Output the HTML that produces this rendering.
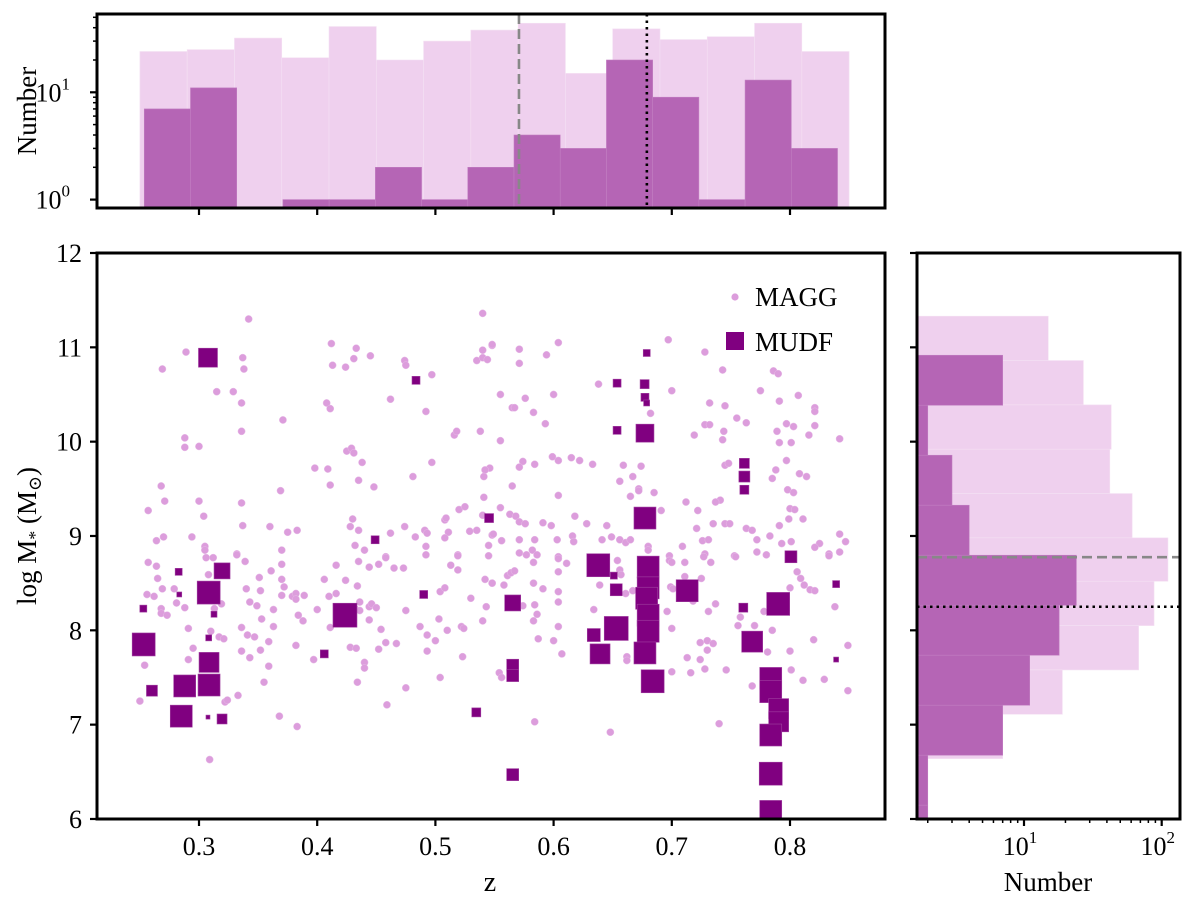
<!DOCTYPE html>
<html><head><meta charset="utf-8"><style>
html,body{margin:0;padding:0;background:#fff;}
svg{display:block;font-family:"Liberation Serif","DejaVu Serif",serif;}
</style></head><body>
<svg id="fig" width="1200" height="904" viewBox="0 0 1200 904" xmlns="http://www.w3.org/2000/svg">
<defs>
<clipPath id="clipMain"><rect x="97" y="253" width="788" height="566"/></clipPath>
<clipPath id="clipTop"><rect x="97" y="14" width="788" height="194"/></clipPath>
<clipPath id="clipRight"><rect x="917" y="253" width="263" height="566"/></clipPath>
</defs>
<g id="topHist" clip-path="url(#clipTop)"></g>
<g id="rightHist" clip-path="url(#clipRight)"></g>
<g id="scatter" clip-path="url(#clipMain)"></g>
<g id="axes"></g>
</svg>
<script>
// ---------- DATA ----------
const lightZEdges = [0.25,0.29,0.33,0.37,0.41,0.45,0.49,0.53,0.57,0.61,0.65,0.69,0.73,0.77,0.81,0.85];
const lightZCounts = [24,25,32,21,41,20,30,38,44,15,39,31,33,44,24];
const darkZEdges = [0.2537,0.2928,0.3319,0.3710,0.4101,0.4492,0.4883,0.5274,0.5665,0.6056,0.6447,0.6838,0.7229,0.7620,0.8011,0.8402];
const darkZCounts = [7,11,0,1,1,2,1,2,4,3,20,9,1,13,3];
const lightMEdges = [11.33,10.86,10.39,9.92,9.45,8.98,8.52,8.05,7.58,7.11,6.64];
const lightMCounts = [15,27,43,42,61,111,88,68,19,7];
const darkMEdges = [10.916,10.386,9.856,9.326,8.796,8.266,7.736,7.206,6.676,6.146,5.616];
const darkMCounts = [7,2,3,4,24,18,11,7,2,2];
const zMedianAll = 0.5707;
const zMedianMUDF = 0.6789;
const mMedianAll = 8.775;
const mMedianMUDF = 8.25;
const xTicks = [0.3,0.4,0.5,0.6,0.7,0.8];
const yTicks = [6,7,8,9,10,11,12];

const maggZ = [0.342,0.412,0.289,0.433,0.337,0.431,0.445,0.269,0.338,0.413,0.424,0.474,0.475,0.497,0.540,0.540,0.548,0.535,0.540,0.544,0.315,0.329,0.336,0.408,0.411,0.462,0.492,0.371,0.336,0.288,0.288,0.300,0.425,0.429,0.431,0.438,0.516,0.518,0.538,0.497,0.398,0.409,0.435,0.411,0.448,0.481,0.546,0.542,0.541,0.268,0.271,0.257,0.300,0.304,0.336,0.369,0.337,0.360,0.375,0.383,0.430,0.428,0.435,0.462,0.474,0.483,0.491,0.493,0.508,0.509,0.511,0.520,0.525,0.541,0.540,0.529,0.535,0.548,0.264,0.270,0.294,0.305,0.305,0.370,0.432,0.440,0.492,0.508,0.545,0.332,0.306,0.312,0.458,0.519,0.545,
0.548,0.571,0.571,0.594,0.604,0.697,0.728,0.743,0.786,0.790,0.638,0.700,0.775,0.555,0.576,0.600,0.791,0.807,0.732,0.745,0.821,0.821,0.565,0.567,0.583,0.682,0.593,0.755,0.763,0.728,0.732,0.744,0.719,0.743,0.797,0.803,0.821,0.789,0.816,0.791,0.801,0.842,0.555,0.574,0.571,0.584,0.599,0.604,0.615,0.622,0.633,0.659,0.674,0.667,0.656,0.565,0.672,0.672,0.685,0.665,0.604,0.555,0.712,0.722,0.741,0.737,0.745,0.748,0.797,0.788,0.785,0.808,0.814,0.798,0.803,0.800,0.804,0.811,0.799,0.791,0.563,0.568,0.571,0.576,0.591,0.598,0.618,0.628,0.645,0.691,0.721,0.735,0.745,0.749,0.763,0.768,0.783,0.549,0.556,0.571,0.584,0.603,0.616,0.617,0.641,0.649,0.656,0.661,0.665,0.680,0.680,0.709,0.726,0.731,0.772,0.793,0.801,0.825,0.821,0.842,0.847,0.842,0.833,0.772,0.780,0.753,0.728,0.698,0.571,0.577,0.582,0.586,0.604,
0.257,0.264,0.265,0.269,0.256,0.262,0.279,0.281,0.288,0.268,0.268,0.273,0.308,0.313,0.319,0.291,0.310,0.317,0.321,0.295,0.291,0.254,0.250,0.322,0.324,0.333,0.309,0.332,0.339,0.361,0.351,0.340,0.352,0.370,0.370,0.372,0.370,0.379,0.382,0.382,0.389,0.343,0.349,0.363,0.353,0.336,0.341,0.347,0.363,0.359,0.352,0.336,0.343,0.359,0.384,0.388,0.382,0.400,0.397,0.355,0.368,0.383,0.416,0.406,0.424,0.434,0.416,0.410,0.435,0.444,0.452,0.458,0.432,0.436,0.444,0.446,0.450,0.436,0.444,0.454,0.411,0.428,0.433,0.452,0.458,0.467,0.440,0.440,0.434,0.459,0.475,0.465,0.473,0.475,0.487,0.493,0.500,0.493,0.503,0.510,0.504,0.508,0.513,0.519,0.519,0.530,0.522,0.524,0.543,0.540,0.542,0.548,0.523,0.504,0.492,
0.548,0.558,0.561,0.564,0.567,0.583,0.583,0.591,0.604,0.604,0.604,0.611,0.604,0.584,0.586,0.583,0.574,0.604,0.587,0.600,0.607,0.634,0.639,0.654,0.656,0.657,0.661,0.667,0.662,0.662,0.554,0.556,0.584,0.648,0.698,0.700,0.711,0.699,0.701,0.696,0.700,0.711,0.725,0.727,0.733,0.754,0.718,0.737,0.731,0.758,0.756,0.770,0.778,0.785,0.724,0.730,0.735,0.730,0.713,0.724,0.728,0.716,0.700,0.746,0.768,0.740,0.781,0.800,0.801,0.811,0.829,0.849,0.849,0.820,0.838,0.800,0.806,0.809,0.812,0.817,0.821,0.833];
const maggM = [11.30,11.04,10.95,10.99,10.89,10.88,10.91,10.77,10.77,10.81,10.79,10.86,10.81,10.71,11.36,10.97,11.02,10.86,10.89,10.87,10.53,10.53,10.41,10.41,10.35,10.45,10.32,10.23,10.11,10.04,9.94,9.95,9.90,9.93,9.88,9.78,10.07,10.11,10.11,9.78,9.72,9.71,9.59,9.54,9.52,9.63,9.72,9.70,9.63,9.53,9.37,9.27,9.37,9.21,9.35,9.48,9.11,9.10,9.04,9.06,9.18,9.10,9.06,9.03,9.10,8.99,9.06,9.03,9.17,9.19,9.04,9.28,9.31,9.41,9.22,9.05,9.06,9.01,8.95,8.99,8.99,8.89,8.85,8.85,8.90,8.85,8.89,8.98,8.90,8.81,8.77,8.77,8.78,8.80,8.79,
11.03,10.98,10.83,10.92,11.05,11.08,10.95,10.76,10.75,10.72,10.61,10.54,10.54,10.50,10.46,10.50,10.43,10.49,10.41,10.38,10.36,10.32,10.36,10.36,10.31,10.30,10.19,10.25,10.20,10.18,10.18,10.11,10.07,10.02,10.19,10.16,10.17,10.11,10.07,9.99,9.99,10.03,10.01,9.79,9.73,9.76,9.84,9.80,9.83,9.80,9.76,9.75,9.74,9.63,9.58,9.53,9.50,9.48,9.46,9.42,9.43,9.30,9.36,9.27,9.38,9.36,9.75,9.77,9.80,9.70,9.61,9.66,9.63,9.49,9.46,9.29,9.28,9.18,9.18,9.11,9.23,9.21,9.15,9.13,9.14,9.11,9.21,9.13,9.11,9.27,9.08,9.13,9.13,9.13,9.08,9.06,9.00,9.02,8.95,8.96,8.96,8.96,9.00,8.94,8.96,8.99,8.96,8.93,8.96,8.89,8.85,8.89,8.95,8.96,8.96,8.92,8.94,8.92,8.88,9.02,8.94,8.83,8.81,8.83,8.80,8.79,8.81,8.79,8.82,8.80,8.85,8.80,8.78,
8.72,8.68,8.55,8.44,8.38,8.36,8.44,8.29,8.24,8.23,8.18,8.16,8.59,8.23,8.28,8.02,7.99,7.93,7.91,7.81,7.69,7.63,7.25,7.24,7.26,7.31,6.63,8.80,8.73,8.63,8.56,8.44,8.42,8.70,8.54,8.46,8.37,8.36,8.39,8.33,8.37,8.30,8.26,8.22,8.12,8.03,7.95,7.93,8.04,7.88,7.79,7.78,7.71,7.62,8.16,8.10,7.84,8.22,7.69,7.45,7.09,6.98,8.69,8.54,8.53,8.47,8.39,8.36,8.73,8.67,8.70,8.77,8.23,8.30,8.25,8.28,8.24,8.21,8.11,8.01,8.03,7.82,7.81,7.80,7.87,7.86,7.66,7.60,7.45,7.21,7.39,8.66,8.66,8.21,8.04,7.95,7.89,7.78,8.12,8.00,8.41,8.45,8.69,8.64,8.79,8.34,8.04,8.02,8.25,8.10,8.54,8.50,7.72,7.50,8.80,
8.50,8.48,8.58,8.61,8.63,8.50,8.72,8.44,8.30,8.41,8.62,8.71,8.76,8.27,8.17,8.10,8.26,8.04,7.91,7.89,7.75,8.22,8.48,8.74,8.64,8.59,8.39,8.42,7.72,7.68,7.55,7.50,7.03,6.92,8.74,8.72,8.72,8.46,8.44,8.20,8.02,8.57,8.55,8.78,8.72,8.78,8.31,8.28,8.20,8.14,8.05,8.05,8.20,8.00,7.87,7.89,7.86,7.79,7.71,7.69,7.59,7.55,7.56,7.58,7.41,7.01,7.77,7.78,7.58,7.47,7.48,7.36,7.84,7.90,8.25,8.45,8.62,8.55,8.48,8.43,8.42,8.79];

const mudfZ = [0.3076,0.4836,0.3195,0.2828,0.2833,0.3082,0.2529,0.3127,0.4235,0.2532,0.3082,0.3085,0.406,0.2879,0.3085,0.2602,0.285,0.3076,0.3195,0.4901,0.5346,0.449,0.5454,
0.6788,0.6537,0.677,0.6773,0.6787,0.6537,0.6773,0.7614,0.7614,0.7614,0.6773,0.8008,
0.6378,0.651,0.68,0.68,0.6787,0.68,0.68,0.6773,0.653,0.713,0.5654,0.7605,0.790,0.839,0.839,0.653,0.634,0.6393,0.6838,0.5654,0.5654,0.768,0.7837,0.7837,0.7904,0.7904,0.7837,0.7837,0.7837,0.5654];
const mudfM = [10.89,10.65,8.63,8.62,8.38,8.40,8.23,8.17,8.16,7.85,7.92,7.66,7.75,7.41,7.42,7.36,7.09,7.08,7.06,8.38,7.13,8.96,9.19,
10.94,10.62,10.61,10.47,10.41,10.12,10.09,9.77,9.63,9.49,9.19,8.78,
8.69,8.58,8.67,8.45,8.34,8.16,7.99,7.76,8.43,8.42,8.29,8.24,8.28,8.49,7.69,8.02,7.95,7.75,7.46,7.63,7.52,7.88,7.49,7.35,7.17,7.03,6.89,6.48,6.08,6.47];
const mudfSize = [19,8,16,7,5,23,7,6,24,23,6,20,8,22,22,11,22,4,10,8,9,8,9,
7,8,9,8,6,8,18,10,11,9,22,12,
23,7,22,22,22,22,22,22,12,22,16,9,23,7,5,24,13,20,23,12,12,21,22,22,20,20,22,23,22,12];

// ---------- SCALES ----------
const NS='http://www.w3.org/2000/svg';
const X = z => 199 + (z-0.3)*1182;
const Y = m => 253 + (12-m)*94.33;
const Yt = n => 199.6 - Math.log10(n)*107.3;
const Xr = n => 886.3 + Math.log10(n)*137.7;
function mk(tag, attrs, parent){
  const e=document.createElementNS(NS,tag);
  for(const k in attrs) e.setAttribute(k,attrs[k]);
  parent.appendChild(e); return e;
}
const topG=document.getElementById('topHist');
const rightG=document.getElementById('rightHist');
const sc=document.getElementById('scatter');
const ax=document.getElementById('axes');

// top histogram
lightZCounts.forEach((c,i)=>{ if(c<=0) return;
  const x0=X(lightZEdges[i]), x1=X(lightZEdges[i+1]);
  const r=mk('rect',{x:x0,y:Yt(c),width:x1-x0,height:215-Yt(c),fill:'#efd0ee',stroke:'#f4e0f3','stroke-width':0.6},topG);
  
  
});
darkZCounts.forEach((c,i)=>{ if(c<=0) return;
  const x0=X(darkZEdges[i]), x1=X(darkZEdges[i+1]);
  const r=mk('rect',{x:x0,y:Yt(c),width:x1-x0,height:215-Yt(c),fill:'#b565b5',stroke:'#c27fc2','stroke-width':0.6},topG);
  
  
});
let l=mk('line',{x1:X(zMedianAll),x2:X(zMedianAll),y1:14,y2:208,stroke:'#888','stroke-width':2.6,'stroke-dasharray':'10,5'},topG);
 
l=mk('line',{x1:X(zMedianMUDF),x2:X(zMedianMUDF),y1:14,y2:208,stroke:'#000','stroke-width':2.6,'stroke-dasharray':'2.5,4'},topG);
 

// right histogram
lightMCounts.forEach((c,i)=>{
  const y0=Y(lightMEdges[i]), y1=Y(lightMEdges[i+1]);
  const r=mk('rect',{x:910,y:y0,width:Xr(c)-910,height:y1-y0,fill:'#efd0ee',stroke:'#f4e0f3','stroke-width':0.6},rightG);
  
  
});
darkMCounts.forEach((c,i)=>{
  const y0=Y(darkMEdges[i]), y1=Y(darkMEdges[i+1]);
  const r=mk('rect',{x:910,y:y0,width:Xr(c)-910,height:y1-y0,fill:'#b565b5',stroke:'#c27fc2','stroke-width':0.6},rightG);
  
  
});
l=mk('line',{x1:917,x2:1180,y1:Y(mMedianAll),y2:Y(mMedianAll),stroke:'#888','stroke-width':2.6,'stroke-dasharray':'10,5'},rightG);
 
l=mk('line',{x1:917,x2:1180,y1:Y(mMedianMUDF),y2:Y(mMedianMUDF),stroke:'#000','stroke-width':2.6,'stroke-dasharray':'2.5,4'},rightG);
 

// scatter
maggZ.forEach((z,i)=>{
  const c=mk('circle',{cx:X(z),cy:Y(maggM[i]),r:3.6,fill:'#dc9ddc',stroke:'#e8bce8','stroke-width':0.5},sc);
  
  
});
mudfZ.forEach((z,i)=>{
  const s=mudfSize[i];
  const r=mk('rect',{x:X(z)-s/2,y:Y(mudfM[i])-s/2,width:s,height:s,fill:'#800080',stroke:'#a040a0','stroke-width':0.6},sc);
  
  
});

// frames
[[97,14,788,194,'top-hist-frame'],[97,253,788,566,'main-frame'],[917,253,263,566,'right-hist-frame']].forEach(f=>{
  const r=mk('rect',{x:f[0],y:f[1],width:f[2],height:f[3],fill:'none',stroke:'#000','stroke-width':3},ax);
  
  
});
function tick(x1,y1,x2,y2,w){ mk('line',{x1,y1,x2,y2,stroke:'#000','stroke-width':w},ax); }
function txt(x,y,s,anchor,size,parent){ const t=mk('text',{x,y,'text-anchor':anchor,'font-size':size,fill:'#000'},parent||ax); t.textContent=s; return t; }

// main x ticks
xTicks.forEach(z=>{
  const x=X(z);
  tick(x,819,x,826,2.2); tick(x,208,x,215,2.2);
  const t=txt(x,855,z.toFixed(1),'middle',26);
   
});
// main y ticks
yTicks.forEach(m=>{
  const y=Y(m);
  tick(90,y,97,y,2.2); tick(910,y,917,y,2.2);
  const t=txt(82,y+9,String(m),'end',26);
   
});
// top hist log y ticks
[1,10].forEach((n,k)=>{
  const y=Yt(n); tick(90,y,97,y,2.2);
  const t=mk('text',{x:70,y:y+9,'text-anchor':'end','font-size':26},ax);
   
  t.textContent='10';
  const s=mk('tspan',{dy:-12,'font-size':17},t); s.textContent=String(k);
});
[2,3,4,5,6,7,8,9,20,30,40,50].forEach(n=>{ const y=Yt(n); if(y>14) tick(93,y,97,y,1.5); });
// right hist log x ticks
[10,100].forEach((n,k)=>{
  const x=Xr(n); tick(x,819,x,826,2.2);
  const t=mk('text',{x:x-4,y:855,'text-anchor':'middle','font-size':26},ax);
   
  t.textContent='10';
  const s=mk('tspan',{dy:-12,'font-size':17},t); s.textContent=String(k+1);
});
[2,3,4,5,6,7,8,9,20,30,40,50,60,70,80,90].forEach(n=>{ const x=Xr(n); if(x>917) tick(x,819,x,823,1.5); });

// axis labels
let t=txt(490,891,'z','middle',28);  
t=txt(1048,891,'Number','middle',27);  
t=mk('text',{x:0,y:0,'text-anchor':'middle','font-size':27,transform:'translate(36,111) rotate(-90)'},ax);
t.textContent='Number';  
t=mk('text',{x:0,y:0,'text-anchor':'middle','font-size':27,transform:'translate(36,536) rotate(-90)'},ax);
 
t.textContent='log M';
let sub=mk('tspan',{dy:5,'font-size':18},t); sub.textContent='*';
let rest=mk('tspan',{dy:-5},t); rest.textContent=' (M';
sub=mk('tspan',{dy:5,'font-size':18},t); sub.textContent='\u2299';
rest=mk('tspan',{dy:-5},t); rest.textContent=')';

// legend
const lg=mk('g',{},ax);
 
let c=mk('circle',{cx:735,cy:297,r:3.6,fill:'#dc9ddc'},lg);
 
t=txt(755,306,'MAGG','start',27,lg);  
let r=mk('rect',{x:726,y:332,width:18,height:18,fill:'#800080'},lg);
 
t=txt(755,351,'MUDF','start',27,lg);  
</script>
</body></html>
